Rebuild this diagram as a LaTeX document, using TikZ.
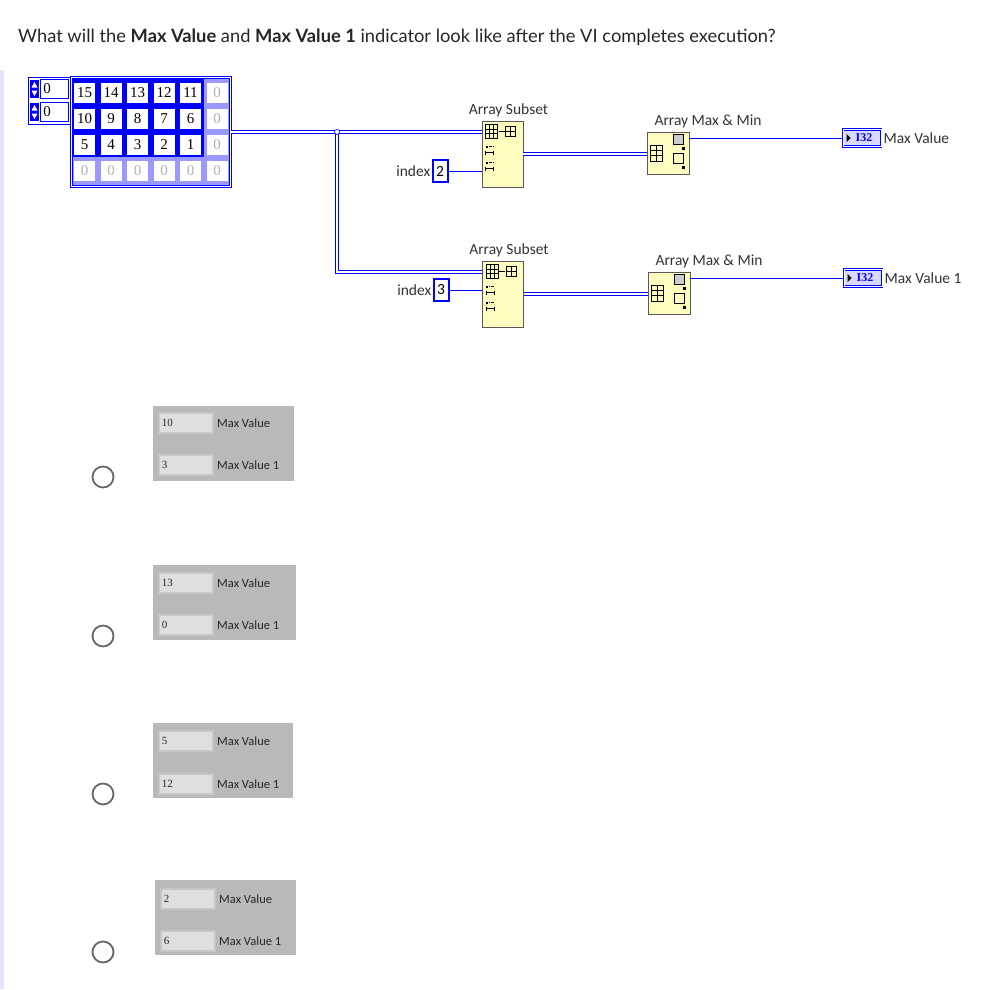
\documentclass[tikz,border=0pt]{standalone}
\usepackage{fontspec}
\setmainfont{Lato}
\newfontfamily\lv{Carlito}
\newfontfamily\num{Liberation Serif}
\begin{document}
\begin{tikzpicture}[x=1pt,y=-1pt,
  arrw/.style={draw=blue,line width=3.4pt,postaction={draw=white,line width=1.2pt}},
  scw/.style={blue,line width=1pt},
  blk/.style={draw=gray!70!black,fill=yellow!25,line width=0.8pt},
  cell/.style={fill=white,inner sep=0pt,minimum width=21pt,minimum height=20pt,font=\num\fontsize{15}{15}\selectfont,text=black},
  gcell/.style={cell,text=gray!60},
  lab/.style={font=\lv\fontsize{15.5}{15.5}\selectfont,text=black!80},
  fld/.style={fill=gray!25,draw=gray!45,line width=1.5pt,minimum width=54pt,minimum height=20pt,inner sep=2pt,font=\num\fontsize{11}{11}\selectfont,text=black!85,text width=48pt,align=left},
  plab/.style={font=\lv\fontsize{12.5}{12.5}\selectfont,text=black!85,anchor=west,inner sep=0pt},
  opt/.style={circle,draw=gray!80!black,line width=1.8pt,minimum size=21pt,inner sep=0pt}]
\useasboundingbox (0,0) rectangle (1005,989);
\fill[blue!10] (0,70) rectangle (4,989);
\node[anchor=west,inner sep=0pt,font=\fontsize{18.3}{19}\selectfont,text=black!85] (q) at (18,37) {What will the \textbf{Max Value} and \textbf{Max Value 1} indicator look like after the VI completes execution?};
% index control
\node[draw=blue,line width=1pt,minimum width=42pt,minimum height=47pt,inner sep=0pt] (idx) at (49,101) {};
\foreach \r/\y in {1/89,2/112}{
  \fill[blue] (30,\y-9) rectangle (39,\y+9);
  \fill[white] (31.5,\y-1.5) -- (37.5,\y-1.5) -- (34.5,\y-7) -- cycle;
  \fill[white] (31.5,\y+1.5) -- (37.5,\y+1.5) -- (34.5,\y+7) -- cycle;
  \node[draw=blue,fill=white,minimum width=28pt,minimum height=19pt,inner sep=0pt,font=\num\fontsize{15}{15}\selectfont,text=black,anchor=west] (sp\r) at (40,\y) {\hspace*{-14pt}0};
}
% array
\node[draw=blue,double=white,double distance=1pt,line width=1pt,fill=blue!40,minimum width=159pt,minimum height=109pt,inner sep=0pt] (array) at (150.5,131.5) {};
\fill[blue] (72,79) rectangle (204,157);
\foreach \v [count=\i from 0] in {15,14,13,12,11}{\node[cell] (a1\i) at (84.5+26.5*\i,93) {\v};}
\foreach \v [count=\i from 0] in {10,9,8,7,6}{\node[cell] (a2\i) at (84.5+26.5*\i,119) {\v};}
\foreach \v [count=\i from 0] in {5,4,3,2,1}{\node[cell] (a3\i) at (84.5+26.5*\i,145) {\v};}
\foreach \i in {0,...,5}{\node[gcell] (a4\i) at (84.5+26.5*\i,171) {0};}
\foreach \r/\y in {1/93,2/119,3/145}{\node[gcell] (a\r5) at (217,\y) {0};}
% blocks
\node[blk,minimum width=41pt,minimum height=66pt,inner sep=0pt] (s1) at (502.5,154) {};
\node[blk,minimum width=41pt,minimum height=66pt,inner sep=0pt] (s2) at (503,294) {};
\node[lab,anchor=south] (s1l) at ([xshift=6pt]s1.north) {Array Subset};
\node[lab,anchor=south] (s2l) at ([xshift=6pt]s2.north) {Array Subset};
\node[blk,minimum width=42pt,minimum height=42pt,inner sep=0pt] (m1) at (668,153) {};
\node[blk,minimum width=42pt,minimum height=42pt,inner sep=0pt] (m2) at (669,293) {};
\node[lab,anchor=south] (m1l) at ([xshift=40pt]m1.north) {Array Max \& Min};
\node[lab,anchor=south] (m2l) at ([xshift=40pt]m2.north) {Array Max \& Min};
% icons
\foreach \b in {s1,s2}{
  \draw[black,line width=0.5pt] ([shift={(4,4)}]\b.north west) rectangle +(12,14);
  \draw[black,line width=0.4pt] ([shift={(4,8.5)}]\b.north west) -- +(12,0) ([shift={(4,13)}]\b.north west) -- +(12,0) ([shift={(8,4)}]\b.north west) -- +(0,14) ([shift={(12,4)}]\b.north west) -- +(0,14);
  \draw[black,line width=0.5pt] ([shift={(24,6)}]\b.north west) rectangle +(10,10);
  \draw[black,line width=0.4pt] ([shift={(24,11)}]\b.north west) -- +(10,0) ([shift={(29,6)}]\b.north west) -- +(0,10);
  \draw[black,line width=0.6pt] ([shift={(17,11)}]\b.north west) -- +(6,0);
  \foreach \k in {0,1}{
    \fill[black] ([shift={(4,25+16*\k)}]\b.north west) rectangle +(2,2);
    \draw[black,densely dotted,line width=0.4pt] ([shift={(7,26+16*\k)}]\b.north west) -- +(5,0);
    \draw[black,line width=0.5pt] ([shift={(4,32+16*\k)}]\b.north west) -- +(8,0) ([shift={(4,30+16*\k)}]\b.north west) -- +(0,4) ([shift={(12,30+16*\k)}]\b.north west) -- +(0,4);}
}
\foreach \b in {m1,m2}{
  \draw[black,line width=0.5pt] ([shift={(4,14)}]\b.north west) rectangle +(12,16);
  \draw[black,line width=0.4pt] ([shift={(4,19)}]\b.north west) -- +(12,0) ([shift={(4,24)}]\b.north west) -- +(12,0) ([shift={(10,14)}]\b.north west) -- +(0,16);
  \draw[black,fill=gray!40,line width=0.4pt] ([shift={(27,3)}]\b.north west) rectangle +(10,10);
  \draw[black,line width=0.4pt] ([shift={(27,22)}]\b.north west) rectangle +(10,10);
  \fill[black] ([shift={(35,15)}]\b.north west) rectangle +(3,3);
  \fill[black] ([shift={(35,34)}]\b.north west) rectangle +(3,3);
}
% index constants
\node[draw=blue,line width=2pt,minimum width=15pt,minimum height=22pt,inner sep=0pt,font=\lv\fontsize{15.5}{15.5}\selectfont] (i2) at (440,171) {2};
\node[draw=blue,line width=2pt,minimum width=15pt,minimum height=22pt,inner sep=0pt,font=\lv\fontsize{15.5}{15.5}\selectfont] (i3) at (441,290) {3};
\node[lab,anchor=east,inner sep=1pt] (i2l) at (i2.west) {index};
\node[lab,anchor=east,inner sep=1pt] (i3l) at (i3.west) {index};
% indicators
\node[draw=blue,double=white,double distance=0.6pt,line width=0.8pt,fill=blue!15,minimum width=38pt,minimum height=17pt,inner sep=0pt,font=\num\bfseries\fontsize{12}{12}\selectfont,text=blue] (o1) at (862,138) {\,\,I32};
\node[draw=blue,double=white,double distance=0.6pt,line width=0.8pt,fill=blue!15,minimum width=38pt,minimum height=17pt,inner sep=0pt,font=\num\bfseries\fontsize{12}{12}\selectfont,text=blue] (o2) at (863,278) {\,\,I32};
\fill[black] ([shift={(4,-4)}]o1.west) -- +(0,8) -- +(4,4) -- cycle;
\fill[black] ([shift={(4,-4)}]o2.west) -- +(0,8) -- +(4,4) -- cycle;
\node[lab,anchor=west,inner sep=2pt] (o1l) at (o1.east) {Max Value};
\node[lab,anchor=west,inner sep=2pt] (o2l) at (o2.east) {Max Value 1};
% wires
\coordinate (j) at (337,132);
\coordinate (jb) at (337,272);
\coordinate (s1o) at (s1.east);
\coordinate (s2o) at (s2.east);
\coordinate (m1o) at ([yshift=15pt]m1.east);
\coordinate (m2o) at ([yshift=15pt]m2.east);
\draw[arrw] (array.east |- j) -- (j) -- (s1.west |- j);
\draw[arrw] (j) -- (jb) -- (s2.west |- jb);
\draw[blue,fill=white,line width=0.6pt] (j) circle (2.5pt);
\draw[arrw] (s1o) -- (m1.west |- s1o);
\draw[arrw] (s2o) -- (m2.west |- s2o);
\draw[scw] (i2.east) -- (s1.west |- i2.east);
\draw[scw] (i3.east) -- (s2.west |- i3.east);
\draw[scw] (m1o) -- (o1.west |- m1o);
\draw[scw] (m2o) -- (o2.west |- m2o);
% answer options
\foreach \n/\px/\pw/\py/\ya/\yb/\va/\vb/\cy in {1/153/141/406/423/465/10/3/477, 2/153/143/565/583/625/13/0/636, 3/153/140/723/741/784/5/12/794, 4/155/141/880/899/941/2/6/952}{
  \fill[gray!55] (\px,\py) rectangle +(\pw,75);
  \node[fld,anchor=west] (f\n a) at (\px+5,\ya) {\va};
  \node[fld,anchor=west] (f\n b) at (\px+5,\yb) {\vb};
  \node[plab] (l\n a) at (\px+64,\ya) {Max Value};
  \node[plab] (l\n b) at (\px+64,\yb) {Max Value 1};
  \node[opt] (c\n) at (103,\cy) {};
}
\end{tikzpicture}
\end{document}
